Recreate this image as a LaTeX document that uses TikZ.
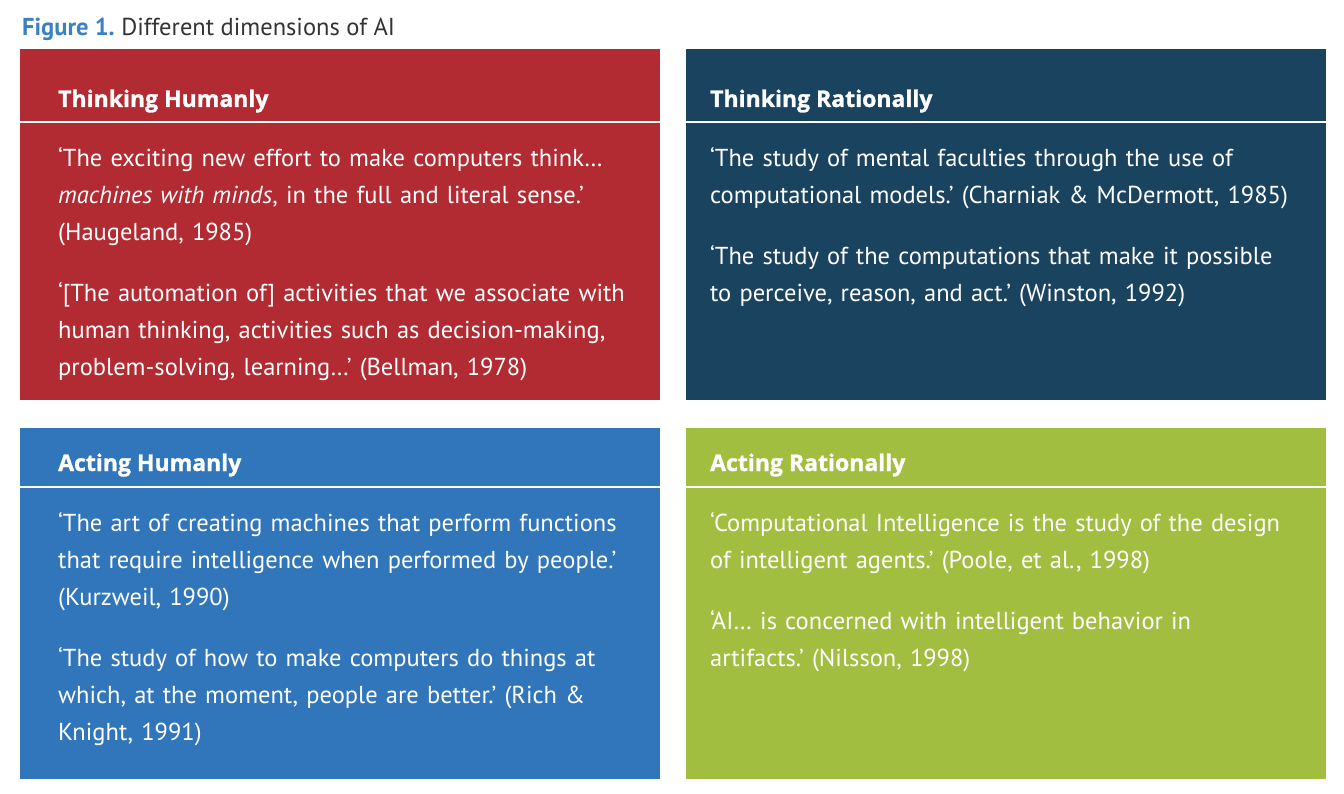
\documentclass[tikz,border=0pt]{standalone}
\usepackage{fontspec}
\setmainfont{PT Sans}
\newfontfamily\headfont{Open Sans}[BoldFeatures={FakeBold=1.2}]
\definecolor{aired}{HTML}{B22B32}
\definecolor{aidark}{HTML}{1A4360}
\definecolor{aiblue}{HTML}{3176BA}
\definecolor{aigreen}{HTML}{A2BE40}
\definecolor{figblue}{HTML}{3B7FC4}
\definecolor{titlegray}{HTML}{333333}
\frenchspacing
\begin{document}
\begin{tikzpicture}[x=1pt, y=-1pt,
	quad/.style={anchor=north west, inner sep=0, minimum width=640pt, minimum height=351pt},
	head/.style={anchor=base west, inner sep=0, text=white, font=\headfont\fontsize{23}{27}\selectfont\bfseries},
	quote/.style={anchor=base west, inner sep=0, text=white, text width=620pt, align=left, font=\fontsize{24.5}{37}\selectfont},
	rule/.style={white, line width=2pt}]
	\useasboundingbox (0,0) rectangle (1344,794);
	
	\node[anchor=base west, inner sep=0, text=titlegray, font=\fontsize{24.5}{28}\selectfont] (title) at (22,36)
		{\textcolor{figblue}{\bfseries Figure 1.} Different dimensions of AI};
	
	\node[quad, fill=aired] (thum) at (20,49) {};
	\node[quad, fill=aidark] (trat) at (686,49) {};
	\node[quad, fill=aiblue] (ahum) at (20,428) {};
	\node[quad, fill=aigreen] (arat) at (686,428) {};
	
	\draw[rule] ([yshift=-73pt]thum.north west) -- ([yshift=-73pt]thum.north east);
	\draw[rule] ([yshift=-73pt]trat.north west) -- ([yshift=-73pt]trat.north east);
	\draw[rule] ([yshift=-59pt]ahum.north west) -- ([yshift=-59pt]ahum.north east);
	\draw[rule] ([yshift=-59pt]arat.north west) -- ([yshift=-59pt]arat.north east);
	
	\node[head] (thumh) at (58,107) {Thinking Humanly};
	\node[head] (trath) at (710,107) {Thinking Rationally};
	\node[head] (ahumh) at (58,471) {Acting Humanly};
	\node[head] (arath) at (710,471) {Acting Rationally};
	
	\node[quote] (thumq) at (58,167) {%
		‘The exciting new effort to make computers think…\\
		\textit{machines with minds}, in the full and literal sense.’\\
		(Haugeland, 1985)\\[24pt]
		‘[The automation of] activities that we associate with\\
		human thinking, activities such as decision-making,\\
		problem-solving, learning…’ (Bellman, 1978)};
	\node[quote] (tratq) at (710,167) {%
		‘The study of mental faculties through the use of\\
		computational models.’ (Charniak \& McDermott, 1985)\\[24pt]
		‘The study of the computations that make it possible\\
		to perceive, reason, and act.’ (Winston, 1992)};
	\node[quote] (ahumq) at (58,531) {%
		‘The art of creating machines that perform functions\\
		that require intelligence when performed by people.’\\
		(Kurzweil, 1990)\\[24pt]
		‘The study of how to make computers do things at\\
		which, at the moment, people are better.’ (Rich \&\\
		Knight, 1991)};
	\node[quote] (aratq) at (710,531) {%
		‘Computational Intelligence is the study of the design\\
		of intelligent agents.’ (Poole, et al., 1998)\\[24pt]
		‘AI… is concerned with intelligent behavior in\\
		artifacts.’ (Nilsson, 1998)};
\end{tikzpicture}
\end{document}
